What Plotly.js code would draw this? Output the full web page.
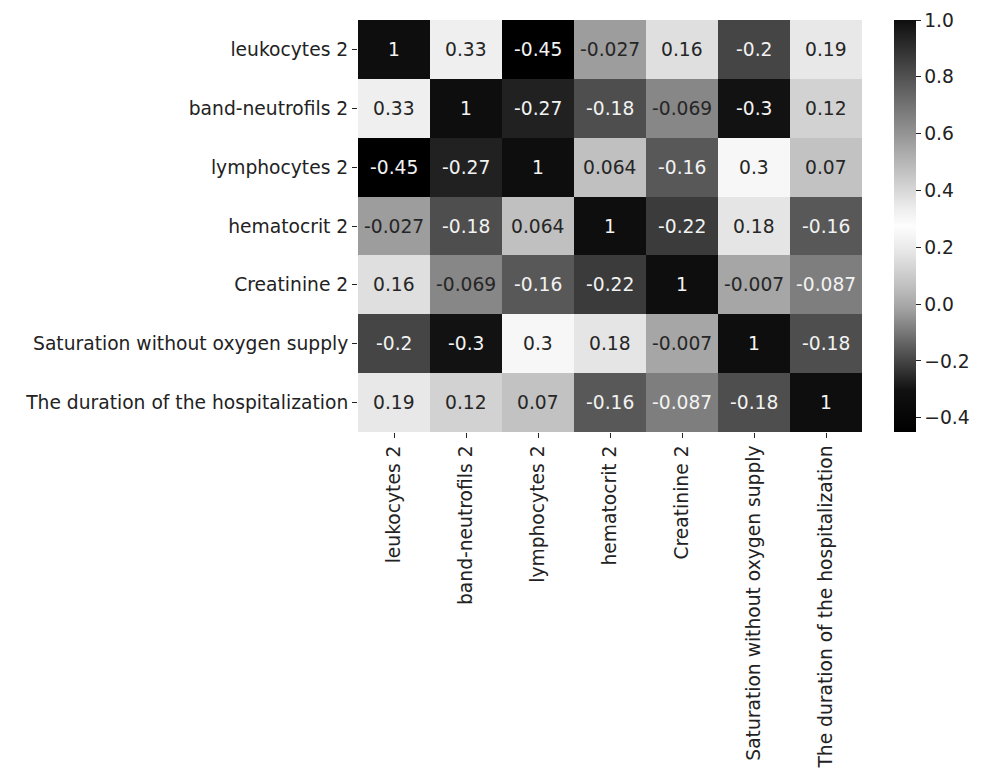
<!DOCTYPE html>
<html>
<head>
<meta charset="utf-8">
<script src="https://cdn.plot.ly/plotly-3.0.1.min.js"></script>
<style>html,body{margin:0;padding:0;background:#fff;}#chart{width:982px;height:772px;}</style>
</head>
<body>
<div id="chart"></div>
<script>
const labels = [
  "leukocytes 2",
  "band-neutrofils 2",
  "lymphocytes 2",
  "hematocrit 2",
  "Creatinine 2",
  "Saturation without oxygen supply",
  "The duration of the hospitalization"
];

const rowLeukocytes   = [1, 0.33, -0.45, -0.027, 0.16, -0.2, 0.19];
const rowBand         = [0.33, 1, -0.27, -0.18, -0.069, -0.3, 0.12];
const rowLymphocytes  = [-0.45, -0.27, 1, 0.064, -0.16, 0.3, 0.07];
const rowHematocrit   = [-0.027, -0.18, 0.064, 1, -0.22, 0.18, -0.16];
const rowCreatinine   = [0.16, -0.069, -0.16, -0.22, 1, -0.007, -0.087];
const rowSaturation   = [-0.2, -0.3, 0.3, 0.18, -0.007, 1, -0.18];
const rowDuration     = [0.19, 0.12, 0.07, -0.16, -0.087, -0.18, 1];

const matrix = [rowLeukocytes, rowBand, rowLymphocytes, rowHematocrit, rowCreatinine, rowSaturation, rowDuration];

const zmin = -0.45, zmax = 1.0;

// colour map stops: [fraction, gray level]
const grayStops = [
  [0, 0], [0.10, 16], [0.125, 34], [0.16, 60], [0.2, 88], [0.25, 126],
  [0.3, 163], [0.355, 192], [0.395, 211], [0.435, 229], [0.47, 243],
  [0.5, 253], [0.54, 238], [1, 14]
];
const colorscale = grayStops.map(s => [s[0], `rgb(${s[1]},${s[1]},${s[1]})`]);

function grayAt(v) {
  const t = (v - zmin) / (zmax - zmin);
  for (let i = 1; i < grayStops.length; i++) {
    if (t <= grayStops[i][0]) {
      const a = grayStops[i-1], b = grayStops[i];
      return a[1] + (b[1] - a[1]) * (t - a[0]) / (b[0] - a[0]);
    }
  }
  return grayStops[grayStops.length-1][1];
}

const FS = 18.7;

const annotations = [];
matrix.forEach((row, i) => {
  row.forEach((v, j) => {
    annotations.push({
      x: labels[j], y: labels[i], xref: 'x', yref: 'y',
      text: String(v), showarrow: false,
      font: {family: 'DejaVu Sans', size: FS, color: grayAt(v) < 132 ? '#f2f2f2' : '#262626'}
    });
  });
});

const trace = {
  type: 'heatmap',
  x: labels, y: labels, z: matrix,
  zmin: zmin, zmax: zmax,
  colorscale: colorscale,
  hoverinfo: 'skip',
  colorbar: {
    x: 1.063, xanchor: 'left', xpad: 0,
    y: 0.5, yanchor: 'middle', ypad: 0,
    len: 1, lenmode: 'fraction',
    thickness: 22, thicknessmode: 'pixels',
    outlinewidth: 0,
    ticks: 'outside', ticklen: 5, tickwidth: 1, tickcolor: '#222',
    tick0: 0, dtick: 0.2, tickformat: '.1f',
    tickfont: {family: 'DejaVu Sans', size: FS, color: '#222'}
  }
};

const layout = {
  width: 982, height: 772,
  margin: {l: 358, r: 117, t: 20, b: 340, pad: 0},
  paper_bgcolor: '#ffffff', plot_bgcolor: '#ffffff',
  font: {family: 'DejaVu Sans', size: FS, color: '#222'},
  xaxis: {
    type: 'category', tickangle: -90, ticks: 'outside', ticklen: 5, tickcolor: '#222',
    showgrid: false, zeroline: false, showline: false,
    tickfont: {family: 'DejaVu Sans', size: FS, color: '#222'}
  },
  yaxis: {
    type: 'category', autorange: 'reversed', ticks: 'outside', ticklen: 5, tickcolor: '#222',
    showgrid: false, zeroline: false, showline: false,
    tickfont: {family: 'DejaVu Sans', size: FS, color: '#222'}
  },
  annotations: annotations
};

Plotly.newPlot('chart', [trace], layout, {displayModeBar: false, staticPlot: true});
</script>
</body>
</html>
